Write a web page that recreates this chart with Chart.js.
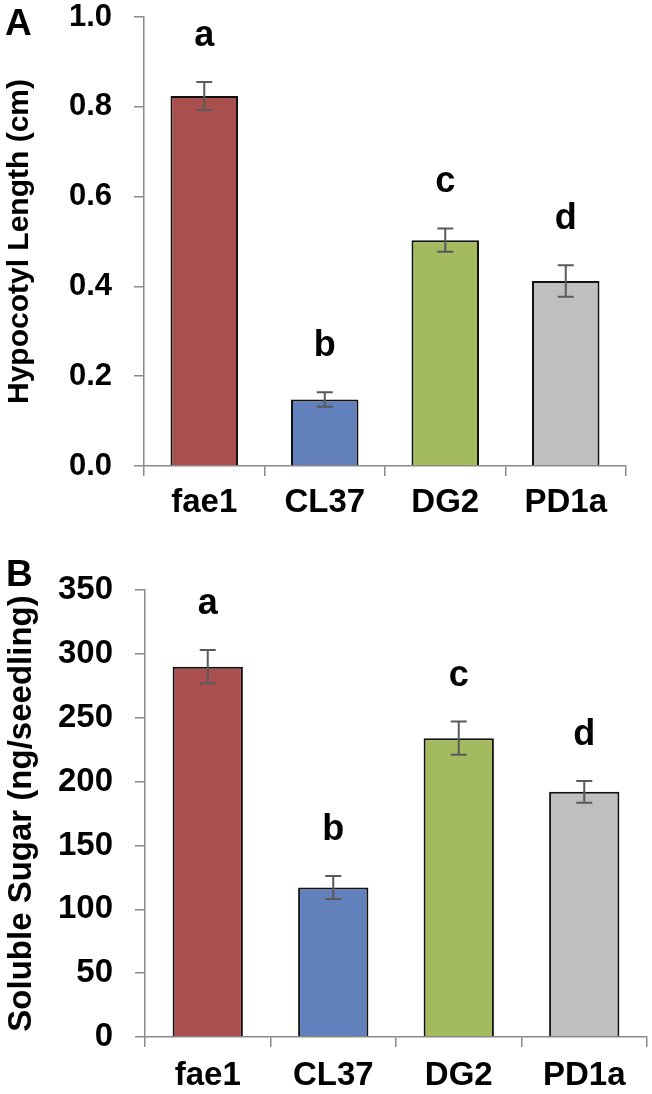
<!DOCTYPE html>
<html>
<head>
<meta charset="utf-8">
<script src="https://cdn.jsdelivr.net/npm/chart.js@4.4.1/dist/chart.umd.min.js"></script>
<style>
  html, body { margin: 0; padding: 0; background: #fff; }
  #wrapA { position: absolute; left: 0; top: 0; width: 652px; height: 540px; }
  #wrapB { position: absolute; left: 0; top: 540px; width: 652px; height: 554px; }
</style>
</head>
<body>
<div id="wrapA"><canvas id="chartA"></canvas></div>
<div id="wrapB"><canvas id="chartB"></canvas></div>
<script>
// ---- data ----
const categories = ['fae1', 'CL37', 'DG2', 'PD1a'];
const hypocotylLength = [0.824, 0.148, 0.503, 0.412];
const hypocotylErr = [0.031, 0.016, 0.026, 0.035];
const hypocotylLetters = ['a', 'b', 'c', 'd'];
const solubleSugar = [290, 117, 234, 192];
const solubleSugarErr = [13, 9, 13, 8.5];
const solubleSugarLetters = ['a', 'b', 'c', 'd'];
const barColors = ['#A9504E', '#6281BC', '#A3BA5F', '#BFBFBF'];

const FONT = "'Liberation Sans', Arial, sans-serif";
const AXIS_COLOR = '#8a8a8a';

const errorBarPlugin = {
  id: 'errorBars',
  afterDatasetsDraw(chart, args, opts) {
    const ctx = chart.ctx;
    const meta = chart.getDatasetMeta(0);
    const y = chart.scales.y;
    const vals = chart.data.datasets[0].data;
    ctx.save();
    ctx.strokeStyle = '#5a5a5a';
    ctx.lineWidth = 2;
    meta.data.forEach((bar, i) => {
      const v = vals[i], e = opts.errors[i];
      const yt = y.getPixelForValue(v + e);
      const yb = y.getPixelForValue(v - e);
      const x = bar.x;
      ctx.beginPath();
      ctx.moveTo(x, yt); ctx.lineTo(x, yb);
      ctx.moveTo(x - 8, yt); ctx.lineTo(x + 8, yt);
      ctx.moveTo(x - 8, yb); ctx.lineTo(x + 8, yb);
      ctx.stroke();
      // significance letter
      ctx.fillStyle = '#000';
      ctx.font = 'bold 36px ' + FONT;
      ctx.textAlign = 'center';
      ctx.textBaseline = 'alphabetic';
      ctx.fillText(opts.letters[i], x, yt - 36);
    });
    // panel letter
    ctx.font = 'bold 37px ' + FONT;
    ctx.textAlign = 'left';
    ctx.fillText(opts.panel, opts.panelX, opts.panelY);
    ctx.restore();
  }
};

function makeChart(id, values, errors, letters, panel, yCfg, geom) {
  return new Chart(document.getElementById(id), {
    type: 'bar',
    data: {
      labels: categories,
      datasets: [{
        data: values,
        backgroundColor: barColors,
        borderColor: '#111',
        borderWidth: 2,
        borderSkipped: 'start',
        categoryPercentage: 1.0,
        barPercentage: 0.56
      }]
    },
    plugins: [errorBarPlugin],
    options: {
      responsive: true,
      maintainAspectRatio: false,
      animation: false,
      layout: { padding: { left: 0, right: geom.right, top: geom.top, bottom: 0 } },
      plugins: {
        legend: { display: false },
        tooltip: { enabled: false },
        errorBars: { errors: errors, letters: letters, panel: panel, panelX: geom.panelX, panelY: geom.panelY }
      },
      scales: {
        x: {
          grid: { offset: true, drawOnChartArea: false, drawTicks: true, tickLength: 10, color: AXIS_COLOR, lineWidth: 1.5 },
          border: { display: true, color: AXIS_COLOR, width: 1.5 },
          ticks: { color: '#000', font: { family: FONT, size: 33, weight: 'bold' }, padding: geom.xPad, maxRotation: 0, autoSkip: false },
          afterFit(scale) {
            scale.height = geom.xHeight;
            scale.paddingLeft = 0; scale.paddingRight = 0;
          }
        },
        y: {
          min: yCfg.min, max: yCfg.max,
          grid: { drawOnChartArea: false, drawTicks: true, tickLength: 10, color: AXIS_COLOR, lineWidth: 1.5 },
          border: { display: true, color: AXIS_COLOR, width: 1.5 },
          ticks: {
            stepSize: yCfg.step, color: '#000', padding: 22,
            font: { family: FONT, size: yCfg.tickSize, weight: 'bold' },
            callback: yCfg.fmt
          },
          title: {
            display: true, text: yCfg.title, color: '#000',
            font: { family: FONT, size: yCfg.titleSize, weight: 'bold' },
            padding: { top: 2, bottom: 0 }
          },
          afterFit(scale) {
            scale.width = geom.yWidth;
            scale.paddingTop = 0; scale.paddingBottom = 0;
          }
        }
      }
    }
  });
}

makeChart('chartA', hypocotylLength, hypocotylErr, hypocotylLetters, 'A',
  { min: 0, max: 1.0, step: 0.2, title: 'Hypocotyl Length (cm)', fmt: v => Number(v).toFixed(1), tickSize: 31, titleSize: 30 },
  { right: 26, top: 17, xHeight: 74, xPad: 7, yWidth: 144, panelX: 5, panelY: 35 });

makeChart('chartB', solubleSugar, solubleSugarErr, solubleSugarLetters, 'B',
  { min: 0, max: 350, step: 50, title: 'Soluble Sugar (ng/seedling)', fmt: v => String(v), tickSize: 33, titleSize: 33 },
  { right: 5, top: 50, xHeight: 57, xPad: 9, yWidth: 145, panelX: 6, panelY: 46 });
</script>
</body>
</html>
